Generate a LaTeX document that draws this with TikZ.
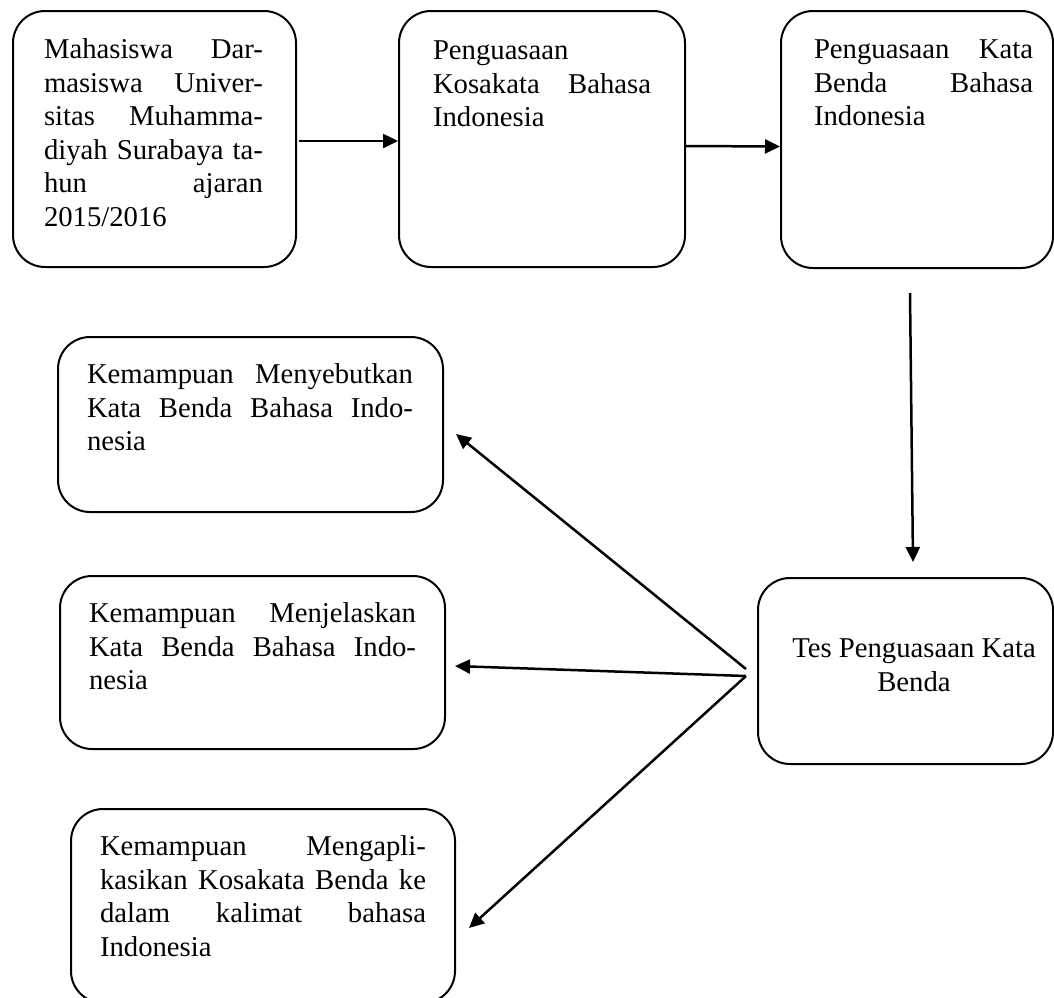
\documentclass[tikz,border=0pt]{standalone}
\usepackage{fontspec}
\setmainfont{Liberation Serif}
\usetikzlibrary{arrows.meta}
\newcommand\jline[1]{\makebox[\linewidth][s]{#1}\par}
\newcommand\boxtext[6]{\parbox[c][#2][t]{#1}{\vspace*{#5}\hspace*{#3}\parbox[t]{#4}{\strut#6}}}
\tikzset{
  box/.style={draw, line width=2pt, rounded corners=32pt, inner sep=0pt, anchor=north west,
    font=\fontsize{28.7pt}{33.5pt}\selectfont},
  arr/.style={line width=2.5pt, -{Triangle[length=15pt,width=14pt]}}
}
\begin{document}
\begin{tikzpicture}[x=1pt,y=-1pt]
\useasboundingbox (0,0) rectangle (1054,997);
\node[box] (b1) at (12,10) {\boxtext{283pt}{256pt}{31pt}{219pt}{24.5pt}{\jline{Mahasiswa Dar-}\jline{masiswa Univer-}\jline{sitas Muhamma-}\jline{diyah Surabaya ta-}\jline{hun ajaran}2015/2016}};
\node[box] (b2) at (398,10) {\boxtext{286pt}{256pt}{34pt}{218pt}{25.5pt}{Penguasaan\par\jline{Kosakata Bahasa}Indonesia}};
\node[box] (b3) at (780,10) {\boxtext{272pt}{257pt}{33pt}{219pt}{24.5pt}{\jline{Penguasaan Kata}\jline{Benda Bahasa}Indonesia}};
\node[box] (tes) at (757,577) {\boxtext{295pt}{186pt}{26pt}{260pt}{56.5pt}{\centering Tes Penguasaan Kata\\Benda}};
\node[box] (k1) at (57,336) {\boxtext{385pt}{175pt}{29pt}{326pt}{23.5pt}{\jline{Kemampuan Menyebutkan}\jline{Kata Benda Bahasa Indo-}nesia}};
\node[box] (k2) at (59,575) {\boxtext{385pt}{173pt}{29pt}{327pt}{23.5pt}{\jline{Kemampuan Menjelaskan}\jline{Kata Benda Bahasa Indo-}nesia}};
\node[box] (k3) at (70,808) {\boxtext{384pt}{194pt}{29pt}{326pt}{23.5pt}{\jline{Kemampuan Mengapli-}\jline{kasikan Kosakata Benda ke}\jline{dalam kalimat bahasa}Indonesia}};
\coordinate (s3) at ([xshift=-7pt,yshift=-24pt]b3.south);
\coordinate (e3) at ([xshift=7.5pt,yshift=15pt]tes.north);
\coordinate (fanA) at ([xshift=-11pt,yshift=2pt]tes.west);
\coordinate (fanB) at ([xshift=-11pt,yshift=-5pt]tes.west);
\coordinate (t1) at ([xshift=12pt,yshift=-9.5pt]k1.east);
\coordinate (t2) at ([xshift=9pt,yshift=-3.5pt]k2.east);
\coordinate (t3) at ([xshift=13pt,yshift=-22pt]k3.east);
\draw[arr] ([xshift=2pt,yshift=-2pt]b1.east) -- ([yshift=-2pt]b2.west);
\draw[arr] ([yshift=-7pt]b2.east) -- ([yshift=-7pt]b3.west);
\draw[arr] (s3) -- (e3);
\draw[arr] (fanA) -- (t1);
\draw[arr] (fanB) -- (t2);
\draw[arr] (fanB) -- (t3);
\end{tikzpicture}
\end{document}
